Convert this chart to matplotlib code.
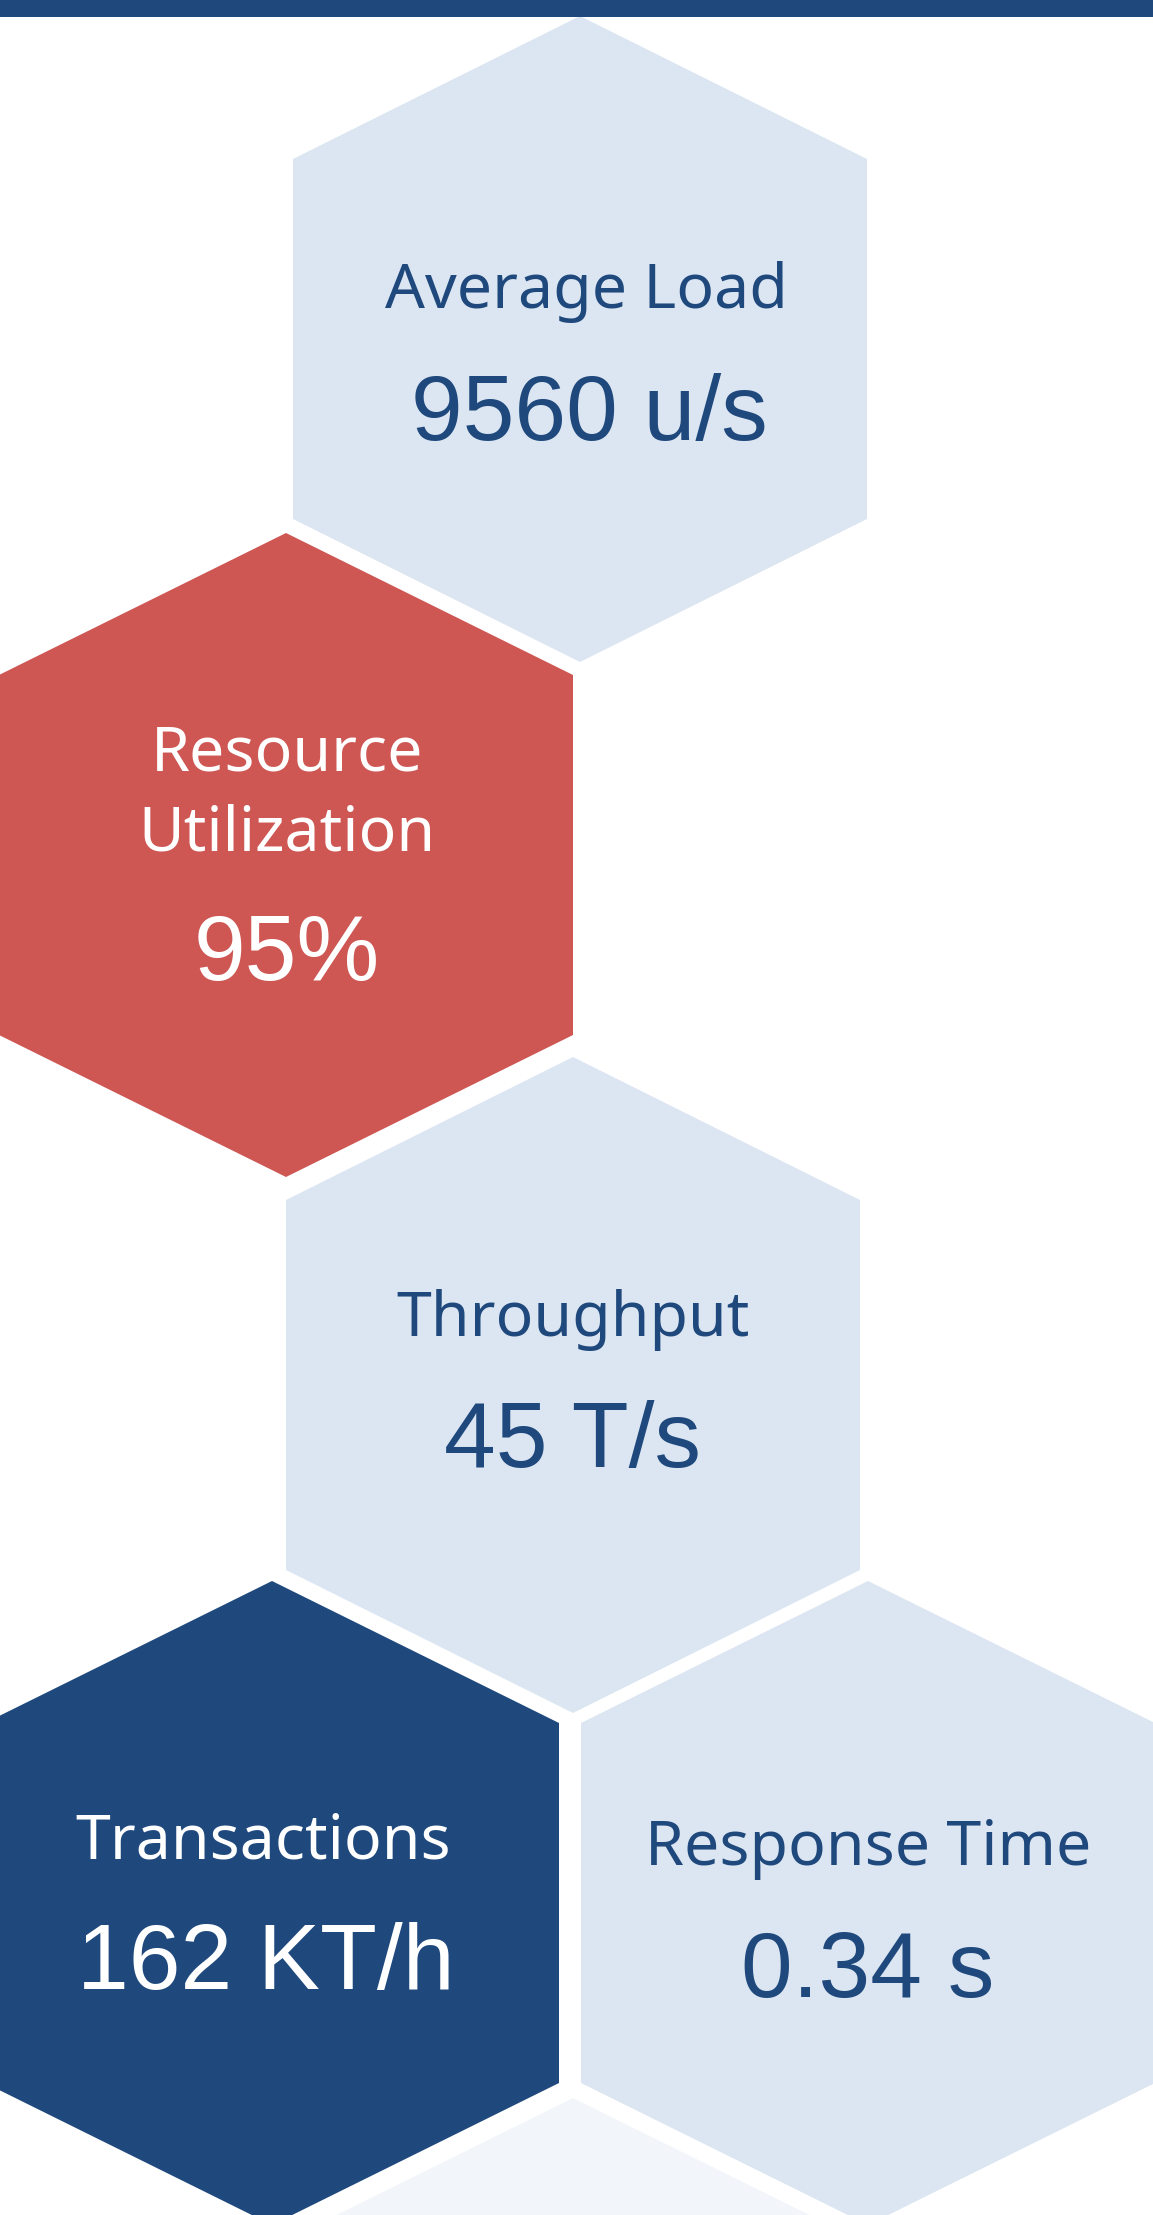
import matplotlib
matplotlib.use("Agg")
import matplotlib.pyplot as plt
from matplotlib.patches import Polygon, Rectangle

# KPI tiles (honeycomb)
titles = [["Average Load"], ["Resource", "Utilization"], ["Throughput"], ["Transactions"], ["Response Time"]]
values = ["9560 u/s", "95%", "45 T/s", "162 KT/h", "0.34 s"]
status = ["normal", "alert", "normal", "focus", "normal"]

W, H, DPI = 1153, 2215, 100
DARK = "#1F497D"
LIGHT = "#DCE6F2"
RED = "#CE5653"
PALE = "#F2F6FB"
fill = {"normal": LIGHT, "alert": RED, "focus": DARK}
ink = {"normal": DARK, "alert": "white", "focus": "white"}

# layout in pixels: centre x, centre y, half width, half height, side corner offset
cells = [(580, 339, 287, 323, 180),
         (286, 855, 287, 322, 180),
         (573, 1385, 287, 328, 185),
         (272, 1903, 287, 322, 180),
         (868, 1903, 287, 322, 180)]
filler = (573, 2420, 287, 322, 180)
title_x = [586, 287, 573, 263, 868]
title_y = [[308], [770, 850], [1336], [1858], [1865]]
title_w = [[400], [269, 297], [352], [373], [450]]
value_x = [589, 287, 573, 266, 868]
value_y = [440, 980, 1467, 1989, 1997]

TITLE_FONT = "Noto Sans"
VALUE_FONT = "Liberation Sans"


def hexagon(cx, cy, w, h, c):
    return [(cx, cy - h), (cx + w, cy - c), (cx + w, cy + c),
            (cx, cy + h), (cx - w, cy + c), (cx - w, cy - c)]


fig = plt.figure(figsize=(W / DPI, H / DPI), dpi=DPI)
ax = fig.add_axes([0, 0, 1, 1])
ax.set_xlim(0, W)
ax.set_ylim(H, 0)
ax.axis("off")

ax.add_patch(Polygon(hexagon(*filler), closed=True, facecolor=PALE, edgecolor="none"))
for cell, st in zip(cells, status):
    ax.add_patch(Polygon(hexagon(*cell), closed=True, facecolor=fill[st], edgecolor="none"))
ax.add_patch(Rectangle((0, 0), W, 17, facecolor=DARK, edgecolor="none", zorder=3))

# one title size, fitted to the widths seen in the tiles
renderer = fig.canvas.get_renderer()
probe = 40
got, want = 0, 0
for lines, ws in zip(titles, title_w):
    for s, w in zip(lines, ws):
        t = ax.text(0, 0, s, fontsize=probe, family=TITLE_FONT)
        got += t.get_window_extent(renderer).width
        want += w
        t.remove()
title_size = probe * want / got

for i, st in enumerate(status):
    for s, y in zip(titles[i], title_y[i]):
        ax.text(title_x[i], y, s, ha="center", va="baseline", fontsize=title_size,
                family=TITLE_FONT, color=ink[st])
    ax.text(value_x[i], value_y[i], values[i], ha="center", va="baseline", fontsize=67,
            family=VALUE_FONT, color=ink[st])

fig.savefig("out.png", dpi=DPI)
